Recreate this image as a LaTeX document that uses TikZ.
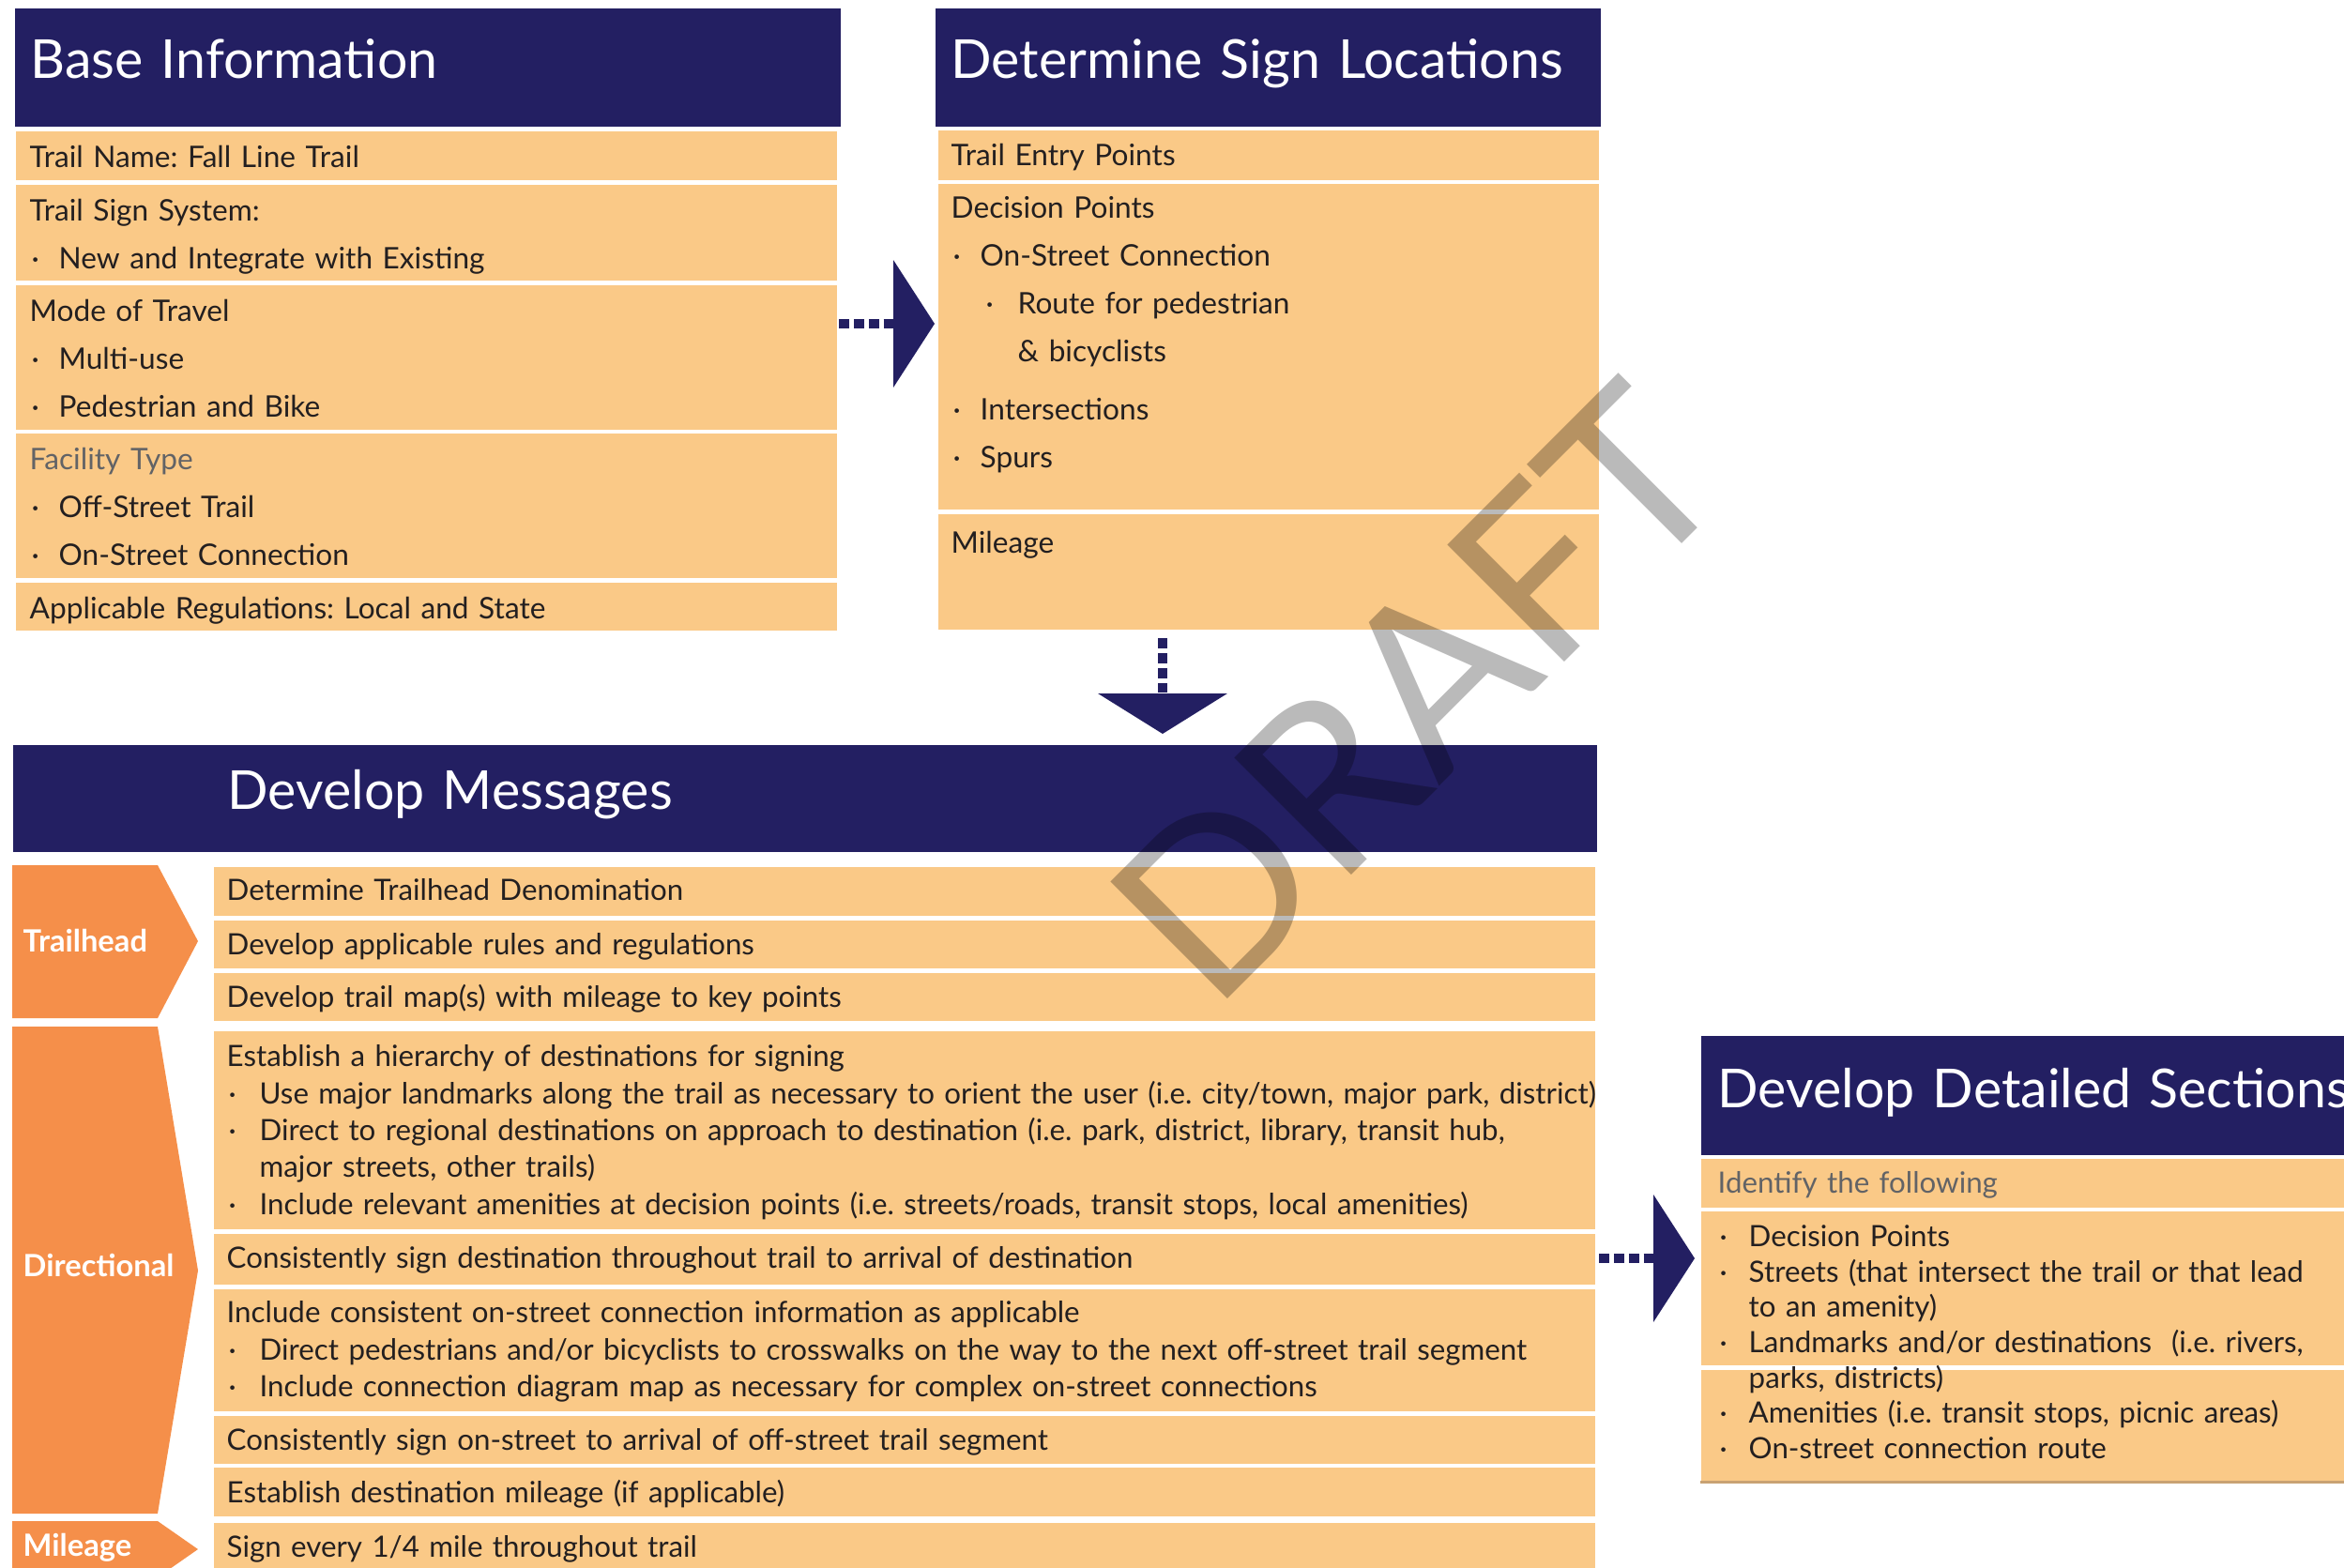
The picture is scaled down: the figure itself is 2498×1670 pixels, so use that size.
\documentclass[tikz,border=0pt]{standalone}
\usepackage{fontspec}
\setmainfont{Lato}
\usetikzlibrary{positioning}
\frenchspacing

\definecolor{navy}{HTML}{231F62}
\definecolor{cellfill}{HTML}{FAC987}
\definecolor{chevfill}{HTML}{F58F4A}
\definecolor{ink}{HTML}{231F20}
\definecolor{soft}{HTML}{626366}
\definecolor{rim}{HTML}{C8A273}

\newcommand{\bodyfont}{\fontsize{9.0}{14.5}\selectfont}
\newcommand{\msgfont}{\fontsize{8.9}{11.2}\selectfont}
\newcommand{\secfont}{\fontsize{8.9}{10.7}\selectfont}
\newcommand{\titlefont}{\fontsize{16.3}{18}\selectfont}
\newcommand{\itm}[1][3.1mm]{\makebox[#1][l]{\hspace{0.2mm}·}}

\begin{document}
\begin{tikzpicture}[x=0.1mm, y=-0.1mm,
        head/.style 2 args={anchor=north west, fill=navy, text=white, font=\titlefont,
            inner xsep=#1, inner ysep=0pt, align=left, text width=#2,
            text height=7.5mm, text depth=5.1mm},
        cell/.style 2 args={anchor=north west, fill=cellfill, text=ink, font=\bodyfont,
            inner xsep=1.5mm, inner ysep=0pt, align=left, text width=#1,
            text height=3.9mm, text depth=#2},
        sign/.style={cell={67.6mm}{#1}, inner xsep=1.4mm},
        msg/.style={cell={144.4mm}{#1}, font=\msgfont, inner xsep=1.4mm, text height=3.7mm},
        sec/.style={cell={71.4mm}{#1}, font=\secfont, inner xsep=1.8mm, text height=3.8mm},
        chevlabel/.style={anchor=base west, text=white, inner sep=0pt,
            font=\bfseries\fontsize{9.3}{11}\selectfont},
        dotlink/.style={draw=navy, line width=1.07mm, dash pattern=on 1.07mm off 0.5mm},
        watermark/.style={rotate=45, text=black, text opacity=0.27, inner sep=0pt,
            font=\fontsize{70}{70}\selectfont}]
    \useasboundingbox (0,0) rectangle (2498,1670);

    % Headers
    \node[head={1.7mm}{84.6mm}] (basehead) at (15,8) {Base Information};
    \node[head={1.7mm}{67.5mm}] (lochead) at (996,8) {Determine Sign Locations};
    \node[head={22.9mm}{123mm}, text height=6.9mm, text depth=4.5mm] (msghead) at (13,793) {Develop Messages};
    \node[head={1.8mm}{71.4mm}, text height=7.7mm, text depth=5.0mm] (sechead) at (1812,1103) {Develop Detailed Sections};

    % Base information
    \node[cell={84.5mm}{1.3mm}] (trailname) at (16,139) {Trail Name: Fall Line Trail};
    \node[cell={84.5mm}{6.3mm}] (signsys) at (16,196) {Trail Sign System:\\
        \itm New and Integrate with Existing};
    \node[cell={84.5mm}{11.5mm}] (travel) at (16,303) {Mode of Travel\\
        \itm Multi-use\\
        \itm Pedestrian and Bike};
    \node[cell={84.5mm}{11.5mm}] (facility) at (16,461) {{\color{soft}Facility Type}\\
        \itm Off-Street Trail\\
        \itm On-Street Connection};
    \node[cell={84.5mm}{1.2mm}] (regs) at (16,620) {Applicable Regulations: Local and State};

    % Sign locations
    \node[sign={1.5mm}, text height=3.8mm] (entry) at (999,138) {Trail Entry Points};
    \node[sign={31.0mm}, text height=3.7mm] (decision) at (999,195) {Decision Points\\
        \itm On-Street Connection\\
        \hspace*{3.5mm}\itm[3.6mm]Route for pedestrian\\
        \hspace*{7.1mm}\& bicyclists\\[1.1mm]
        \itm Intersections\\
        \itm Spurs};
    \node[sign={8.1mm}, text height=4.2mm] (signmileage) at (999,547) {Mileage};

    % Messages
    \node[msg={1.6mm}, text height=3.6mm] (denom) at (227,923) {Determine Trailhead Denomination};
    \node[msg={1.4mm}] (rules) at (227,980) {Develop applicable rules and regulations};
    \node[msg={1.4mm}] (trailmap) at (227,1036) {Develop trail map(s) with mileage to key points};
    \node[msg={17.3mm}, text height=3.8mm] (hierarchy) at (227,1098) {Establish a hierarchy of destinations for signing\\
        \mbox{\itm[3.5mm]Use major landmarks along the trail as necessary to orient the user (i.e. city/town, major park, district)}\\
        \mbox{\itm[3.5mm]Direct to regional destinations on approach to destination (i.e. park, district, library, transit hub,}\\
        \hspace*{3.5mm}major streets, other trails)\\
        \mbox{\itm[3.5mm]Include relevant amenities at decision points (i.e. streets/roads, transit stops, local amenities)}};
    \node[msg={1.7mm}] (consistent) at (227,1314) {Consistently sign destination throughout trail to arrival of destination};
    \node[msg={9.4mm}, text height=3.6mm] (onstreet) at (227,1373) {Include consistent on-street connection information as applicable\\
        \mbox{\itm[3.5mm]Direct pedestrians and/or bicyclists to crosswalks on the way to the next off-street trail segment}\\
        \mbox{\itm[3.5mm]Include connection diagram map as necessary for complex on-street connections}};
    \node[msg={1.4mm}] (arrival) at (227,1508) {Consistently sign on-street to arrival of off-street trail segment};
    \node[msg={1.4mm}, text height=3.8mm] (destmileage) at (227,1563) {Establish destination mileage (if applicable)};
    \node[msg={4.1mm}] (quarter) at (227,1622) {Sign every 1/4 mile throughout trail};

    % Detailed sections
    \node[sec={1.5mm}, text height=3.7mm] (identify) at (1812,1234) {\color{soft}Identify the following};
    \node[sec={8.0mm}, text height=3.9mm] (idrest) at (1812,1459) {};
    \draw[rim, line width=0.25mm] (idrest.south west) -- (idrest.south east);
    \node[sec={12.6mm}] (idlist) at (1812,1290) {\itm[3.3mm]Decision Points\\
        \itm[3.3mm]Streets (that intersect the trail or that lead\\
        \hspace*{3.3mm}to an amenity)\\
        \itm[3.3mm]Landmarks and/or destinations\ \ (i.e. rivers,\\
        \hspace*{3.3mm}parks, districts)\\
        \itm[3.3mm]Amenities (i.e. transit stops, picnic areas)\\
        \itm[3.3mm]On-street connection route};

    % Sign types
    \fill[chevfill] (13,922) -- (168,922) -- (211,1003) -- (168,1085) -- (13,1085) -- cycle;
    \fill[chevfill] (13,1094) -- (168,1094) -- (211,1354) -- (168,1613) -- (13,1613) -- cycle;
    \fill[chevfill] (13,1621) -- (168,1621) -- (211,1651) -- (168,1681) -- (13,1681) -- cycle;
    \node[chevlabel] (trailhead) at (24,1014) {Trailhead};
    \node[chevlabel] (directional) at (24,1360) {Directional};
    \node[chevlabel] (mileagetype) at (24,1658) {Mileage};

    % Edges
    \coordinate (tolocs) at (952,345);
    \draw[dotlink, shorten <=0.2mm] (travel.east |- tolocs) -- (tolocs);
    \fill[navy] (tolocs) -- ++(0,-68) -- ++(44,68) -- ++(-44,68) -- cycle;

    \coordinate (tomsgs) at (1239,739);
    \draw[dotlink, shorten <=0.9mm] (signmileage.south -| tomsgs) -- (tomsgs);
    \fill[navy] (tomsgs) ++(-69,0) -- ++(138,0) -- ++(-69,43) -- cycle;

    \coordinate (tosecs) at (1762,1341);
    \draw[dotlink, shorten <=0.4mm] (consistent.east |- tosecs) -- (tosecs);
    \fill[navy] (tosecs) -- ++(0,-68) -- ++(44,68) -- ++(-44,68) -- cycle;

    % Watermark
    \node[watermark] (draft) at (1510,738) {DRAFT};
\end{tikzpicture}
\end{document}
